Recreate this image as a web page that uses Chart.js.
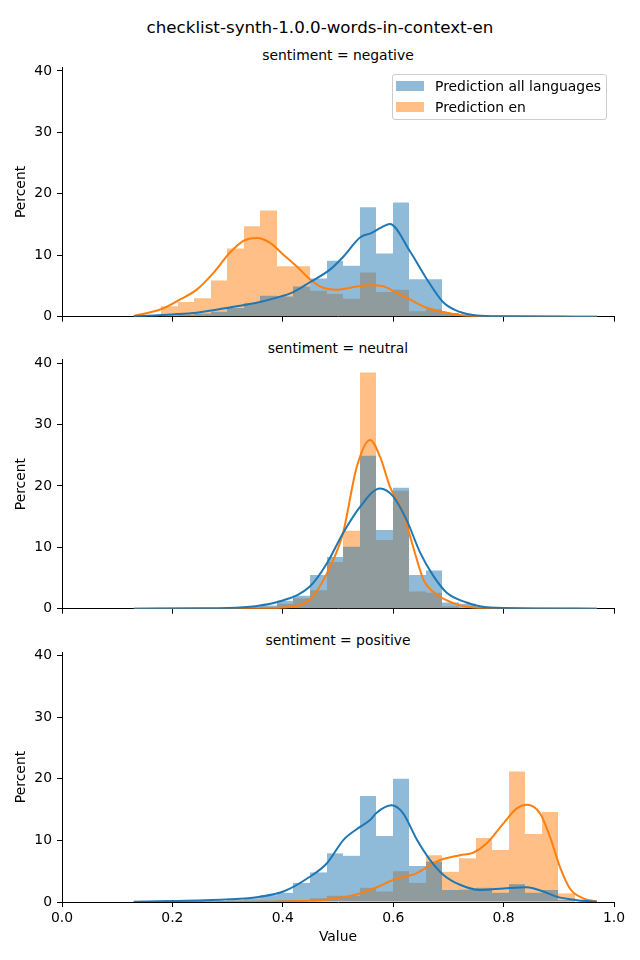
<!DOCTYPE html>
<html><head><meta charset="utf-8">
<script src="https://cdn.jsdelivr.net/npm/chart.js@4.4.0/dist/chart.umd.min.js"></script>
<style>
html,body{margin:0;padding:0;background:#fff;}
body{width:640px;height:960px;position:relative;overflow:hidden;font-family:'DejaVu Sans',sans-serif;color:#000;}
canvas{position:absolute;left:0;}
.t{position:absolute;white-space:nowrap;text-align:center;}
.sub{left:62px;width:552px;font-size:13.9px;line-height:16px;}
.sup{left:0;width:640px;font-size:16.7px;line-height:20px;top:17px;}
.legend{position:absolute;left:392px;top:74px;width:215px;height:46px;box-sizing:border-box;border:1px solid #cccccc;border-radius:3px;background:rgba(255,255,255,0.8);}
.patch{position:absolute;left:396px;width:28px;height:10px;}
.ltxt{position:absolute;left:435px;font-size:13.9px;line-height:16px;white-space:nowrap;}
</style></head><body>
<div class="t sup">checklist-synth-1.0.0-words-in-context-en</div>
<div class="t sub" style="top:47px">sentiment = negative</div>
<div class="t sub" style="top:339.5px">sentiment = neutral</div>
<div class="t sub" style="top:631.8px">sentiment = positive</div>
<canvas id="c1" width="640" height="290" style="top:40px"></canvas>
<canvas id="c2" width="640" height="292" style="top:330px"></canvas>
<canvas id="c3" width="640" height="338" style="top:622px"></canvas>
<div class="legend"></div>
<div class="patch" style="top:81px;background:rgba(31,119,180,0.5)"></div>
<div class="patch" style="top:102px;background:rgba(255,127,14,0.5)"></div>
<div class="ltxt" style="top:78px">Prediction all languages</div>
<div class="ltxt" style="top:98.7px">Prediction en</div>
<script>
const SERIES_NAMES = ['Prediction all languages', 'Prediction en'];
const PANEL_TITLES = ['sentiment = negative', 'sentiment = neutral', 'sentiment = positive'];
const X_TICKS = [0, 0.2, 0.4, 0.6, 0.8, 1.0];
const Y_TICKS = [0, 10, 20, 30, 40];

const BIN_CENTERS = [0.1643,0.1943,0.2243,0.2543,0.2843,0.3143,0.3443,0.3743,0.4043,0.4343,0.4643,0.4943,0.5243,0.5543,0.5843,0.6143,0.6443,0.6743,0.7043,0.7343,0.7643,0.7943,0.8243,0.8543,0.8843,0.9143,0.9443];

const NEG_ALL = [0,0.2,0.3,0.5,0.8,1.4,2.2,3.4,3.3,4.9,6.2,9.1,8.3,17.8,10.3,18.6,6.1,6.1,0.6,0.3,0.1,0.1,0,0,0,0,0];
const NEG_EN  = [0,1.7,2.4,3.0,5.9,11.1,14.7,17.3,8.2,8.2,4.2,3.7,2.9,7.2,4.0,4.4,0.9,1.2,0.5,0.2,0,0,0,0,0,0,0];
const NEU_ALL = [0,0,0,0,0.05,0.1,0.3,0.5,1.3,2.1,5.5,8.4,10.1,24.9,12.8,19.7,5.5,6.2,1.0,0.8,0.2,0.05,0,0,0,0,0];
const NEU_EN  = [0,0,0,0,0,0.05,0.1,0.3,0.8,1.7,3.0,7.6,12.7,38.5,11.2,19.2,2.8,2.6,0.4,0.1,0,0,0,0,0,0,0];
const POS_ALL = [0,0,0,0,0.1,0.3,0.6,1.1,1.5,3.1,4.8,7.9,7.5,17.2,10.7,20.0,5.85,6.55,1.95,2.0,2.3,1.5,2.9,1.5,1.95,0.3,0];
const POS_EN  = [0,0,0,0,0,0,0.1,0.2,0.3,0.3,0.6,1.0,1.0,2.3,1.7,5.0,3.1,7.6,4.9,7.1,10.4,8.45,21.2,11.05,14.6,1.4,0];

const NEG_KDE_ALL_X = [0.13,0.2,0.244,0.304,0.359,0.389,0.419,0.449,0.486,0.51,0.54,0.56,0.576,0.594,0.63,0.661,0.691,0.721,0.751,0.8,0.9,0.969];
const NEG_KDE_ALL_Y = [0.05,0.37,0.65,1.5,2.4,3.1,4.0,5.6,7.7,9.8,12.9,13.6,14.4,15.1,10.7,6.1,2.3,0.75,0.2,0.05,0.01,0];
const NEG_KDE_EN_X = [0.13,0.179,0.214,0.244,0.274,0.304,0.328,0.353,0.377,0.401,0.425,0.449,0.473,0.498,0.534,0.56,0.58,0.606,0.63,0.661,0.691,0.727,0.8,0.969];
const NEG_KDE_EN_Y = [0.1,1.2,2.8,4.4,7.1,10.4,12.3,12.8,12.0,10.1,8.2,6.1,4.7,4.4,4.9,5.1,5.0,3.9,2.8,1.45,0.75,0.2,0.02,0];

const NEU_KDE_ALL_X = [0.13,0.25,0.3,0.35,0.395,0.449,0.48,0.509,0.54,0.576,0.6,0.624,0.649,0.673,0.697,0.733,0.757,0.8,0.969];
const NEU_KDE_ALL_Y = [0,0.05,0.1,0.4,1.2,3.6,7.4,12.3,16.6,19.6,18.3,14.5,9.1,5.3,2.6,1.0,0.4,0.1,0];
const NEU_KDE_EN_X = [0.13,0.3,0.35,0.395,0.449,0.486,0.509,0.534,0.558,0.576,0.594,0.618,0.636,0.655,0.679,0.709,0.733,0.8,0.969];
const NEU_KDE_EN_Y = [0,0,0.05,0.15,1.5,6.9,12.3,23.1,27.5,24.8,19.9,15.6,10.1,4.7,2.3,0.9,0.3,0.02,0];

const POS_KDE_ALL_X = [0.13,0.2,0.304,0.359,0.401,0.449,0.48,0.51,0.54,0.558,0.57,0.597,0.618,0.643,0.667,0.691,0.721,0.757,0.8,0.842,0.872,0.896,0.932,0.969];
const POS_KDE_ALL_Y = [0.05,0.15,0.43,0.87,1.7,4.1,6.3,10.1,12.2,13.3,14.5,15.7,14.4,10.1,6.8,4.4,2.8,1.95,2.2,2.4,1.7,0.87,0.3,0.05];
const POS_KDE_EN_X = [0.13,0.3,0.401,0.48,0.54,0.576,0.6,0.643,0.679,0.721,0.745,0.769,0.8,0.824,0.842,0.866,0.884,0.902,0.92,0.944,0.969];
const POS_KDE_EN_Y = [0,0.02,0.1,0.4,1.4,2.6,3.6,4.7,6.6,7.6,8.0,9.5,12.8,15.2,15.8,14.4,10.6,5.7,2.2,0.6,0.1];

const BLUE = '#1f77b4', ORANGE = '#ff7f0e';
const BLUE_A = 'rgba(31,119,180,0.5)', ORANGE_A = 'rgba(255,127,14,0.5)';
const FONT = {family: "'DejaVu Sans'", size: 13.9};

function pts(xs, ys) { return xs.map((x, i) => ({x: x, y: ys[i]})); }

// Snap histogram bar edges to whole pixels so adjacent translucent bars leave no seams.
const snapBars = {
  id: 'snapBars',
  afterDatasetsUpdate(chart) {
    chart.data.datasets.forEach((ds, i) => {
      const meta = chart.getDatasetMeta(i);
      if (meta.type !== 'bar') return;
      meta.data.forEach(el => {
        const l = Math.round(el.x - el.width / 2);
        const r = Math.round(el.x + el.width / 2);
        el.x = (l + r) / 2;
        el.width = r - l;
      });
    });
  }
};

function makePanel(id, all, en, kax, kay, kex, key, padTop, xHeight, bottomPanel) {
  const ctx = document.getElementById(id);
  new Chart(ctx, {
    type: 'bar',
    plugins: [snapBars],
    data: {
      datasets: [
        {type: 'line', label: SERIES_NAMES[0], data: pts(kax, kay), borderColor: BLUE, borderWidth: 2, pointRadius: 0, cubicInterpolationMode: 'monotone', fill: false, order: 0},
        {type: 'line', label: SERIES_NAMES[1], data: pts(kex, key), borderColor: ORANGE, borderWidth: 2, pointRadius: 0, cubicInterpolationMode: 'monotone', fill: false, order: 1},
        {type: 'bar', label: SERIES_NAMES[0], data: pts(BIN_CENTERS, all), backgroundColor: BLUE_A, borderWidth: 0, inflateAmount: 0, grouped: false, barPercentage: 1, categoryPercentage: 1, order: 2},
        {type: 'bar', label: SERIES_NAMES[1], data: pts(BIN_CENTERS, en), backgroundColor: ORANGE_A, borderWidth: 0, inflateAmount: 0, grouped: false, barPercentage: 1, categoryPercentage: 1, order: 3}
      ]
    },
    options: {
      responsive: false,
      animation: false,
      devicePixelRatio: 1,
      layout: {padding: {top: padTop, right: 26, left: 0, bottom: 0}},
      plugins: {legend: {display: false}, tooltip: {enabled: false}, title: {display: false}},
      scales: {
        x: {
          type: 'linear', min: 0, max: 1, offset: false,
          afterBuildTicks: s => { s.ticks = X_TICKS.map(v => ({value: v})); },
          afterFit: s => { s.height = xHeight; },
          grid: {display: true, drawOnChartArea: false, drawTicks: true, tickLength: 5, color: '#000', lineWidth: 1, offset: false},
          border: {display: true, color: '#000', width: 1},
          ticks: {color: bottomPanel ? '#000' : 'rgba(0,0,0,0)', font: FONT, padding: 3, maxRotation: 0, autoSkip: false,
                  callback: v => Number(v).toFixed(1)},
          title: {display: bottomPanel, text: 'Value', color: '#000', font: FONT, padding: {top: 0, bottom: 14.6}}
        },
        y: {
          type: 'linear', min: 0, max: 40.6,
          afterBuildTicks: s => { s.ticks = Y_TICKS.map(v => ({value: v})); },
          afterFit: s => { s.width = 62; },
          grid: {display: true, drawOnChartArea: false, drawTicks: true, tickLength: 5, color: '#000', lineWidth: 1},
          border: {display: true, color: '#000', width: 1},
          ticks: {color: '#000', font: FONT, padding: 5, callback: v => String(v)},
          title: {display: true, text: 'Percent', color: '#000', font: FONT, padding: {top: 13.5, bottom: 0}}
        }
      }
    }
  });
}

makePanel('c1', NEG_ALL, NEG_EN, NEG_KDE_ALL_X, NEG_KDE_ALL_Y, NEG_KDE_EN_X, NEG_KDE_EN_Y, 27.3, 12.7, false);
makePanel('c2', NEU_ALL, NEU_EN, NEU_KDE_ALL_X, NEU_KDE_ALL_Y, NEU_KDE_EN_X, NEU_KDE_EN_Y, 29.5, 12.5, false);
makePanel('c3', POS_ALL, POS_EN, POS_KDE_ALL_X, POS_KDE_ALL_Y, POS_KDE_EN_X, POS_KDE_EN_Y, 30.0, 58, true);
</script>
</body></html>
